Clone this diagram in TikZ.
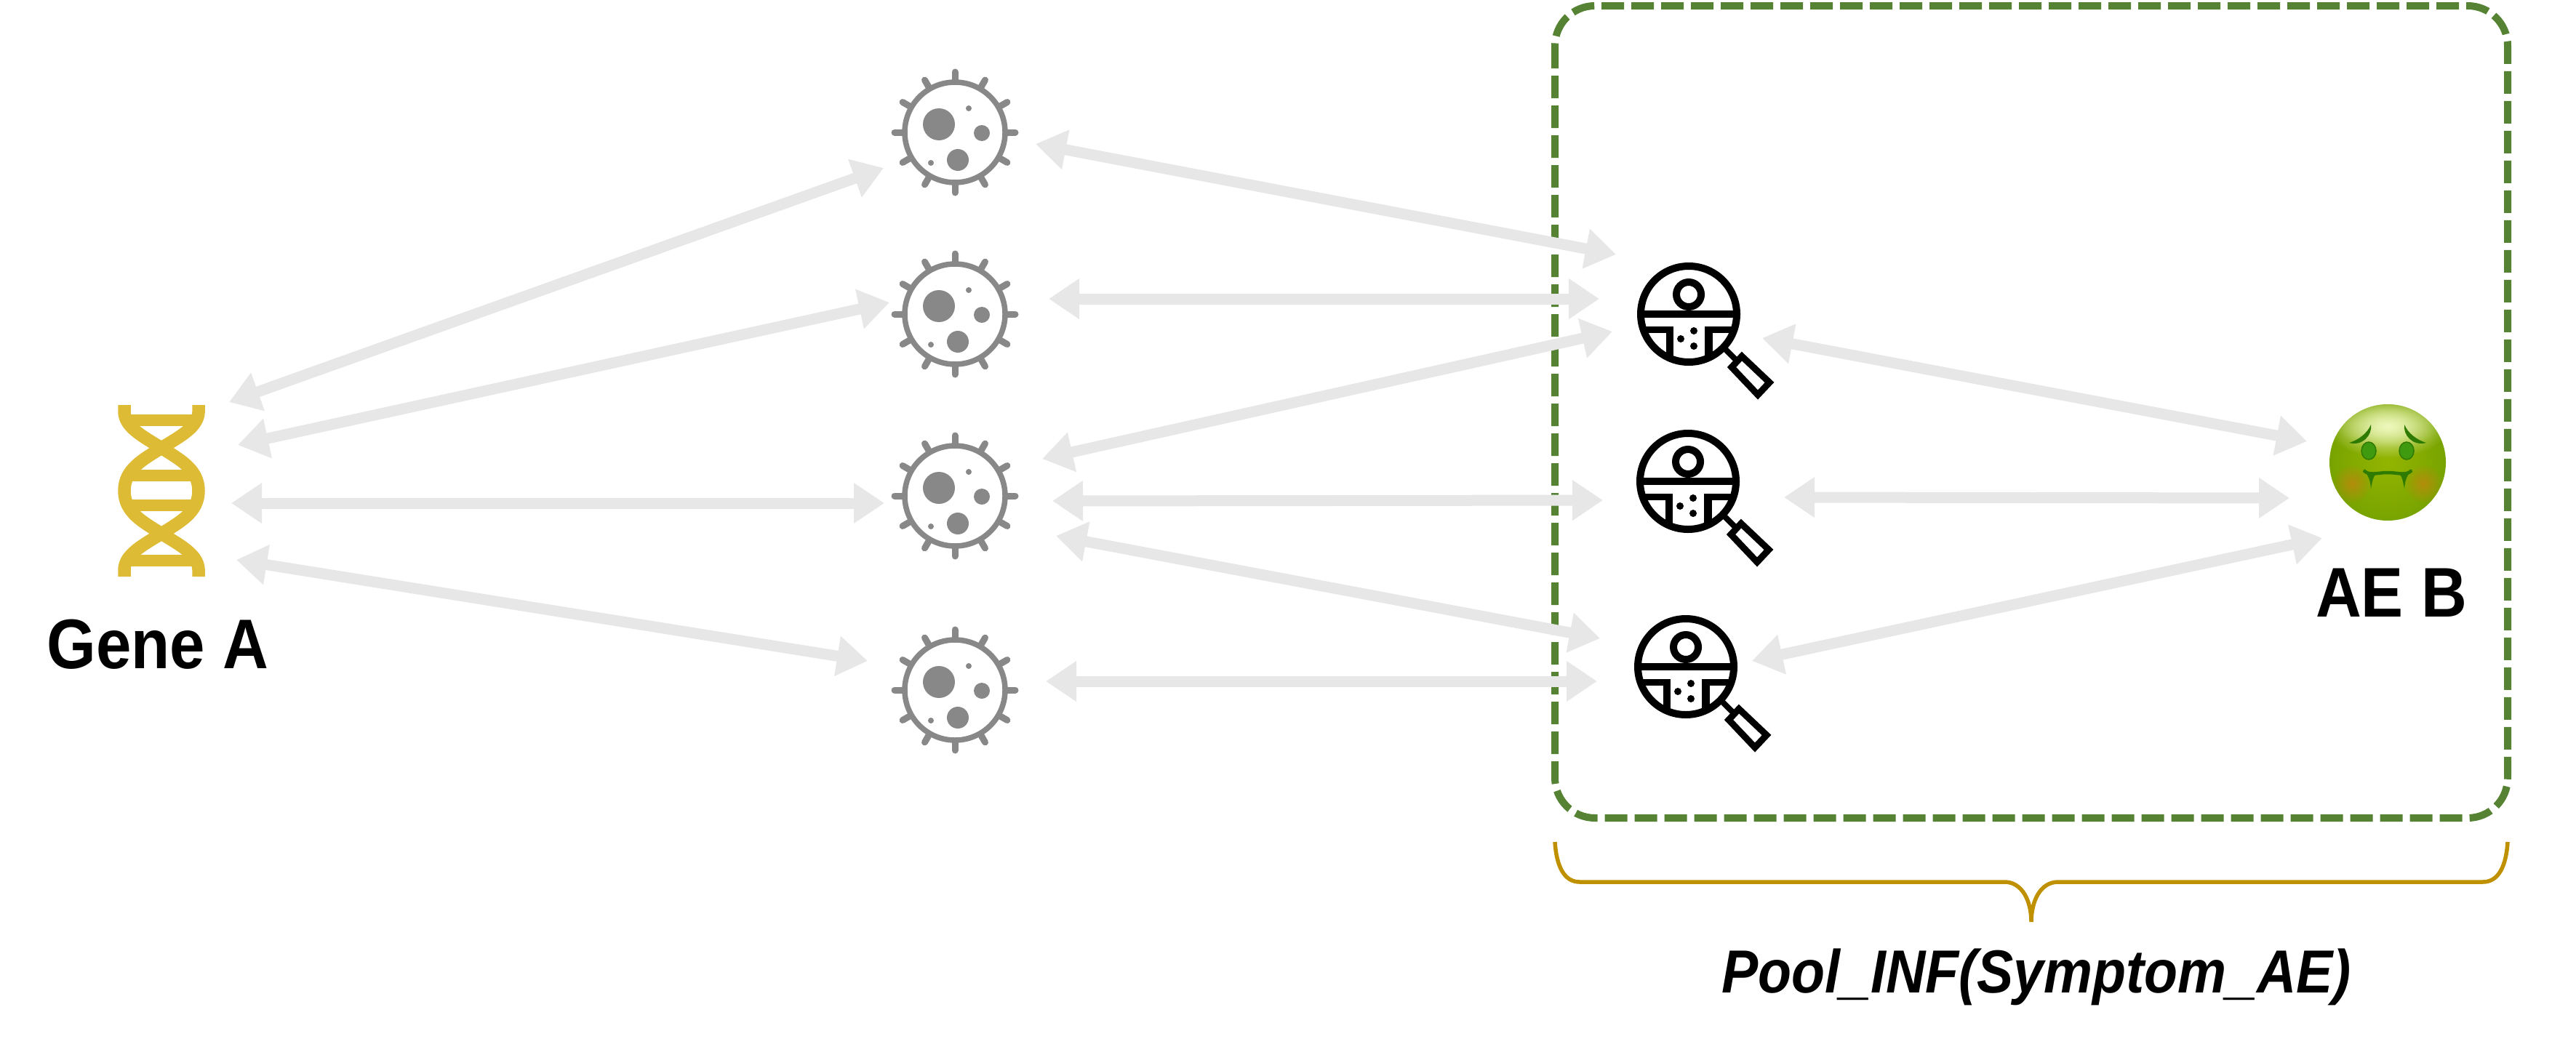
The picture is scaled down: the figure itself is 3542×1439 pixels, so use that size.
\documentclass[tikz,border=0pt]{standalone}
\usepackage{fontspec}
\setmainfont{Liberation Sans}
\newfontfamily\labelfont[FakeStretch=0.9]{Liberation Sans}
\usetikzlibrary{arrows.meta}
\usetikzlibrary{fadings}
\definecolor{arrowgrey}{HTML}{E7E7E7}
\definecolor{virusgrey}{HTML}{888888}
\definecolor{dnagold}{HTML}{DDBB35}
\definecolor{poolgreen}{HTML}{568234}
\definecolor{bracegold}{HTML}{BF9000}
\definecolor{sickdark}{HTML}{2F7A00}
\definecolor{sicklime}{HTML}{93B500}
\definecolor{sickedge}{HTML}{76A200}
\definecolor{sicklight}{HTML}{EEF8BC}
\definecolor{sickeye}{HTML}{3F9A10}
\definecolor{sickblush}{HTML}{C98010}
\tikzfading[name=softspot,inner color=transparent!0,outer color=transparent!100]
\tikzset{
	spot/.style={inner sep=0pt,minimum size=0pt},
	twoway/.style={draw=arrowgrey,line width=1.5mm,{Triangle[length=4.2mm,width=5.3mm]}-{Triangle[length=4.2mm,width=5.3mm]}},
	virus/.pic={
		\draw[virusgrey,line width=.75mm] (0,0) circle (69);
		\foreach \a in {0,30,...,330}
			\draw[virusgrey,line width=.9mm,line cap=round] (\a:72) -- (\a:83);
		\fill[virusgrey] (-22,-11) circle (22);
		\fill[virusgrey] (37,1) circle (11);
		\fill[virusgrey] (4,38) circle (15);
		\fill[virusgrey] (19,-33) circle (4);
		\fill[virusgrey] (-33,42) circle (4);
	},
	lens/.pic={
		\begin{scope}
			\clip (0,0) circle (68);
			\fill (-70,-5) rectangle (70,5);
			\fill (-70,17) rectangle (-21,26);
			\fill (22,17) rectangle (70,26);
			\fill (-31,17) rectangle (-21,70);
			\fill (22,17) rectangle (33,70);
		\end{scope}
		\draw[line width=1mm] (0,0) circle (66);
		\draw[line width=1mm] (0,-27) circle (17);
		\fill (7,23) circle (5);
		\fill (-11,34) circle (5);
		\fill (7,44) circle (5);
		\draw[line width=.8mm] (48,46) -- (64,62);
		\draw[line width=.9mm,line join=miter] (73,58) -- (111,94) -- (95,111) -- (59,73) -- cycle;
	},
	dna/.pic={
		\foreach \s in {-1,1}{
			\draw[dnagold,line width=1.75mm] (\s*51,-118) -- (\s*51,-108) .. controls (\s*50,-88) and (\s*28,-76) .. (0,-59)
				.. controls (-\s*25,-43) and (-\s*51,-30) .. (-\s*51,0)
				.. controls (-\s*51,30) and (-\s*25,43) .. (0,59)
				.. controls (\s*28,76) and (\s*50,88) .. (\s*51,108) -- (\s*51,118);
		}
		\foreach \b in {-97,-21,20,96}
			\fill[dnagold] (-50,\b-8) rectangle (50,\b+8);
	},
	sick/.pic={
		\begin{scope}
			\clip (0,0) circle (80);
			\shade[inner color=sicklime,outer color=sickedge] (0,0) circle (86);
			\fill[sicklight,path fading=softspot] (0,-50) ellipse (84 and 44);
			\fill[sicklight,opacity=.6,path fading=softspot] (0,-50) ellipse (70 and 30);
			\fill[sickblush,opacity=.7,path fading=softspot] (-49,29) circle (27);
			\fill[sickblush,opacity=.7,path fading=softspot] (49,29) circle (27);
		\end{scope}
		\foreach \s in {-1,1}{
			\begin{scope}[xscale=\s]
				\fill[sickdark] (-53,-27) .. controls (-40,-31) and (-28,-40) .. (-23,-52) .. controls (-21,-38) and (-34,-22) .. (-53,-27) -- cycle;
				\filldraw[draw=sickdark,fill=sickeye,line width=.15mm] (-26,-16) ellipse (10 and 12);
				\fill[sickdark] (-34,10) .. controls (-28,16) and (-24,22) .. (-23,36) .. controls (-21,26) and (-20,20) .. (-17,17) -- cycle;
			\end{scope}
		}
		\draw[sickdark,line width=.45mm] (-33,11) .. controls (-25,19) and (-15,14) .. (0,14) .. controls (15,14) and (25,19) .. (33,11);
	},
}
\begin{document}
\begin{tikzpicture}[x=.1mm,y=-.1mm]
	\useasboundingbox (0,0) rectangle (3542,1439);

	\node[spot] (gene) at (222,675) {};
	\node[spot] (vir1) at (1313,182) {};
	\node[spot] (vir2) at (1313,432) {};
	\node[spot] (vir3) at (1313,682) {};
	\node[spot] (vir4) at (1313,949) {};
	\node[spot] (lens1) at (2322,432) {};
	\node[spot] (lens2) at (2321,662) {};
	\node[spot] (lens3) at (2318,917) {};
	\node[spot] (ae) at (3283,636) {};

	% pool box and brace
	\draw[poolgreen,line width=1mm,rounded corners=5.5mm,dash pattern=on 3.1mm off 1mm] (2138,8) rectangle (3448,1125);
	\draw[bracegold,line width=.55mm] (2138,1158) .. controls (2140,1190) and (2150,1213) .. (2172,1213) -- (2756,1213)
		.. controls (2781,1213) and (2793,1240) .. (2793,1268) .. controls (2793,1240) and (2805,1213) .. (2830,1213)
		-- (3414,1213) .. controls (3436,1213) and (3446,1190) .. (3448,1158);

	% arrows
	\draw[twoway] ([shift={(93,-122)}]gene.center) -- ([shift={(-98,49)}]vir1.center);
	\draw[twoway] ([shift={(105,-63)}]gene.center) -- ([shift={(-90,-16)}]vir2.center);
	\draw[twoway] ([shift={(96,17)}]gene.center) -- ([shift={(-97,10)}]vir3.center);
	\draw[twoway] ([shift={(103,95)}]gene.center) -- ([shift={(-120,-40)}]vir4.center);
	\draw[twoway] ([shift={(111,16)}]vir1.center) -- ([shift={(-100,-82)}]lens1.center);
	\draw[twoway] ([shift={(129,-21)}]vir2.center) -- ([shift={(-123,-21)}]lens1.center);
	\draw[twoway] ([shift={(120,-51)}]vir3.center) -- ([shift={(-105,24)}]lens1.center);
	\draw[twoway] ([shift={(134,7)}]vir3.center) -- ([shift={(-117,26)}]lens2.center);
	\draw[twoway] ([shift={(139,55)}]vir3.center) -- ([shift={(-118,-39)}]lens3.center);
	\draw[twoway] ([shift={(125,-12)}]vir4.center) -- ([shift={(-122,20)}]lens3.center);
	\draw[twoway] ([shift={(101,33)}]lens1.center) -- ([shift={(-111,-29)}]ae.center);
	\draw[twoway] ([shift={(132,22)}]lens2.center) -- ([shift={(-135,49)}]ae.center);
	\draw[twoway] ([shift={(91,-8)}]lens3.center) -- ([shift={(-90,104)}]ae.center);

	% icons
	\pic at (gene) {dna};
	\foreach \n in {vir1,vir2,vir3,vir4}
		\pic at (\n) {virus};
	\foreach \n in {lens1,lens2,lens3}
		\pic at (\n) {lens};
	\pic at (ae) {sick};

	\node[spot,anchor=base] (genelabel) at (217,919) {\labelfont\fontsize{27.5}{32}\selectfont\bfseries Gene A};
	\node[spot,anchor=base] (aelabel) at (3288,848) {\labelfont\fontsize{27.5}{32}\selectfont\bfseries AE B};
	\node[spot,anchor=base] (poollabel) at (2800,1365) {\labelfont\fontsize{23.8}{28}\selectfont\bfseries\itshape Pool\_INF(Symptom\_AE)};
\end{tikzpicture}
\end{document}
